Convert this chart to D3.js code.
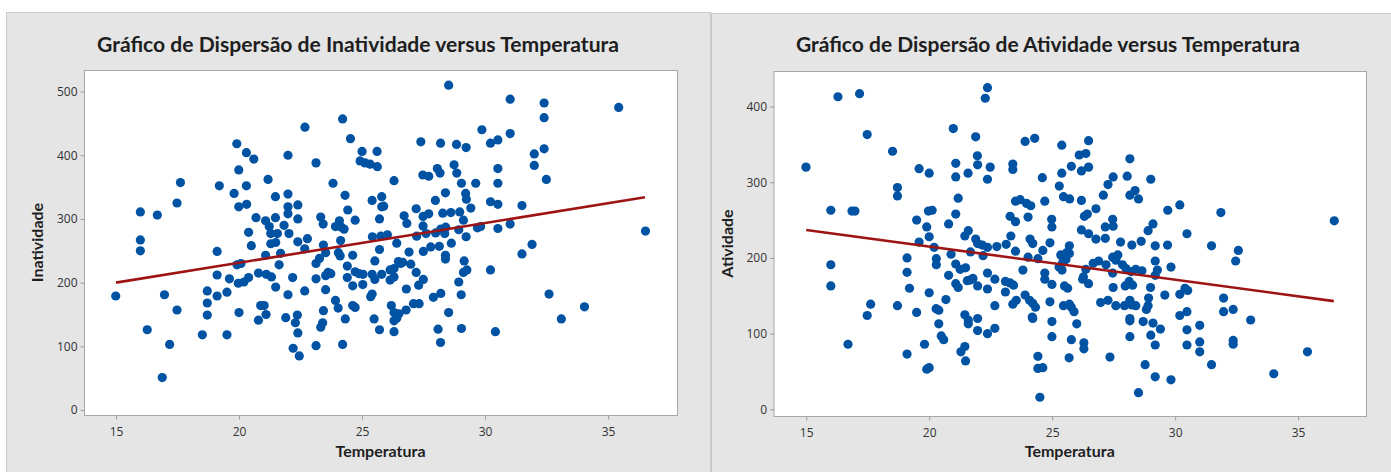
<!DOCTYPE html>
<html><head><meta charset="utf-8">
<script src="https://cdn.jsdelivr.net/npm/d3@7"></script>
<style>body{margin:0;background:#fff;} svg{display:block}</style>
</head><body><svg id="c" width="1391" height="472"></svg>
<script>
const xTicks = [15, 20, 25, 30, 35];
const inatTicks = [0, 100, 200, 300, 400, 500];
const ativTicks = [0, 100, 200, 300, 400];

const inatTemp = [19.91,20.30,20.60,19.99,17.62,19.20,20.30,21.18,19.80,21.48,17.48,15.99,16.68,19.99,20.31,20.69,21.48,21.08,21.23,21.29,21.56,20.39,15.99,15.99,20.50,21.29,21.49,19.11,21.08,21.69,21.63,19.92,20.08,19.11,19.61,19.97,20.20,20.39,20.79,21.11,21.32,21.49,14.99,16.97,18.71,19.11,19.51,18.71,17.48,18.71,20.00,20.88,21.02,21.10,20.79,16.27,17.18,18.51,19.51,16.88,
28.52,24.21,22.68,24.53,29.87,21.99,23.13,25.00,24.92,25.12,25.33,25.61,25.62,27.39,28.19,28.84,29.23,28.06,28.17,27.47,27.71,28.74,28.85,23.82,26.30,29.04,29.62,21.99,24.31,25.80,25.41,28.39,29.21,29.24,21.99,22.39,21.99,22.39,23.32,23.42,24.42,24.72,24.08,23.92,24.16,24.27,25.80,25.88,25.71,27.20,26.71,26.82,27.48,27.71,27.98,28.28,28.61,28.97,29.42,29.12,27.48,27.60,27.99,28.20,28.40,28.36,28.93,29.23,29.69,29.82,22.03,21.83,22.39,22.78,22.67,23.43,23.52,23.13,23.27,24.13,24.04,24.11,24.62,24.40,25.42,25.76,26.03,26.41,25.71,25.52,26.91,27.22,27.49,27.79,28.14,28.39,28.39,28.63,29.15,29.26,29.12,28.93,29.03,22.18,23.13,23.52,23.62,23.73,22.67,23.52,21.99,24.40,24.62,24.72,24.88,25.04,25.03,25.41,25.52,25.80,26.14,26.30,26.48,26.57,26.65,26.30,26.14,26.98,27.20,27.49,27.30,26.80,25.35,25.41,23.92,24.03,24.62,24.72,23.43,21.90,22.37,22.29,22.39,23.40,23.32,24.32,25.49,26.19,26.30,26.50,26.41,26.30,26.79,27.09,27.32,27.90,28.20,28.52,25.71,26.30,28.09,29.04,28.19,22.20,22.45,23.13,24.21,
31.02,32.40,35.43,32.40,31.02,30.22,30.52,32.00,32.40,32.00,30.52,32.49,30.52,30.22,30.52,31.50,30.52,31.02,36.52,31.91,31.50,30.22,32.60,34.04,33.10,30.42];
const inatVal = [418,404,394,377,357,352,352,362,340,335,325,311,306,319,323,302,302,297,288,277,277,279,267,250,258,261,263,249,243,246,228,228,230,212,206,199,201,208,215,213,209,193,179,181,187,179,185,168,157,149,153,164,164,150,141,126,103,118,118,51,
510,457,444,426,440,400,388,406,391,388,386,406,382,421,419,417,412,379,372,369,367,385,372,356,360,356,356,339,337,335,329,341,340,331,319,322,308,300,303,292,314,298,297,288,287,284,319,320,300,316,305,293,304,308,329,309,310,311,317,298,289,277,278,284,287,277,283,272,286,288,277,290,264,269,253,259,247,230,238,266,247,242,243,226,272,273,275,262,252,234,248,273,249,256,257,243,237,262,234,220,216,201,181,208,206,211,216,214,187,189,181,208,195,217,214,213,197,213,205,213,220,222,233,230,232,209,204,229,216,205,196,190,178,182,172,160,164,161,156,145,149,137,121,137,130,143,143,164,153,151,144,140,157,167,167,177,183,153,126,123,127,128,106,97,85,101,103,
488,482,475,459,434,419,424,402,410,384,379,362,356,327,323,321,285,292,281,260,245,220,182,162,143,123];

const ativTemp = [16.29,17.17,17.48,18.51,14.99,19.59,20.00,20.98,21.08,21.58,21.08,18.71,18.71,21.18,16.00,16.86,16.98,19.97,20.12,21.08,19.49,19.90,20.79,20.00,21.45,21.59,19.59,20.20,20.89,21.68,19.10,20.29,20.29,21.08,21.26,21.48,16.00,19.10,20.79,21.08,21.18,21.55,21.68,16.00,19.20,20.00,20.68,17.62,17.48,18.71,19.49,20.28,20.39,20.39,21.45,21.59,21.59,20.49,20.59,16.70,19.10,19.81,21.45,21.29,21.48,19.90,20.00,
22.37,22.28,21.89,23.90,24.29,25.39,26.48,26.10,26.37,21.96,21.97,22.48,23.40,23.40,22.37,24.60,25.39,25.78,26.19,26.48,28.16,28.05,29.01,27.48,27.27,25.29,25.46,25.71,26.19,27.08,28.16,28.37,28.51,29.70,23.51,23.70,23.96,24.13,24.70,26.78,24.02,23.29,23.51,24.98,24.99,26.31,26.43,26.19,26.48,27.16,27.46,27.48,27.16,26.78,29.10,28.90,28.62,28.24,27.78,29.19,29.69,21.89,21.97,22.16,22.37,22.75,23.13,23.32,23.51,24.10,24.21,24.91,24.62,24.02,24.42,25.70,25.59,25.35,25.70,25.56,25.43,25.28,25.40,22.19,23.81,24.70,24.70,26.37,26.27,26.24,26.48,26.67,26.89,27.19,27.46,27.67,27.59,27.46,27.86,28.00,28.21,28.40,28.65,28.13,28.27,27.97,29.19,29.28,29.19,29.83,21.78,21.97,22.37,22.67,22.37,23.10,23.29,23.43,23.10,24.99,25.50,25.63,27.48,29.00,29.58,28.92,23.90,24.08,24.21,24.32,23.54,23.40,24.91,22.67,26.97,27.27,27.59,25.46,25.70,25.78,25.89,27.94,28.16,28.24,28.40,28.83,28.90,24.19,24.21,21.97,21.97,22.37,22.67,24.99,26.00,28.16,28.16,28.70,29.10,29.40,29.01,29.19,24.99,25.78,26.29,26.29,28.16,24.42,24.42,24.62,25.69,27.35,28.78,29.19,29.83,28.51,24.50,
30.19,31.86,36.47,30.48,31.48,32.57,32.46,30.19,30.40,30.51,31.97,30.19,30.48,31.97,32.36,33.07,30.48,31.00,30.48,31.00,31.00,32.36,32.36,31.48,34.01,35.38];
const ativVal = [413,417,363,341,320,318,312,371,325,312,307,293,282,279,263,262,262,262,263,258,250,241,245,228,229,236,221,214,205,208,200,199,191,192,185,187,191,181,177,166,161,170,171,163,160,154,145,139,124,137,128,133,131,113,125,118,113,97,92,86,73,86,83,76,64,53,55,
425,411,360,354,358,349,355,336,338,335,323,320,324,317,304,306,312,321,315,320,331,308,304,307,297,295,281,278,276,283,283,289,278,263,275,277,272,269,275,265,254,255,248,251,241,255,258,237,232,241,251,242,226,225,245,236,222,217,221,216,217,225,219,217,214,215,218,229,209,225,219,220,210,201,199,216,207,204,206,198,194,188,184,203,184,180,172,185,175,172,166,193,196,191,201,204,197,180,191,186,182,185,183,169,164,163,196,184,177,188,173,163,180,172,159,169,167,164,155,165,163,160,161,161,151,147,151,144,140,135,144,139,142,137,141,144,137,137,139,135,129,137,144,138,137,132,137,122,120,120,104,100,107,116,113,120,117,116,114,106,98,85,96,92,88,80,96,70,54,55,68,69,59,43,39,22,16,
270,260,249,232,216,210,196,152,160,157,147,124,129,129,132,118,105,111,85,89,76,91,86,59,47,76];

const inatFitTemp = [15, 36.5];
const inatFitVal = [200, 334];
const ativFitTemp = [15, 36.45];
const ativFitVal = [237, 143];

const svg = d3.select('#c');
const FONT = 'Lato, "Open Sans", sans-serif';

function drawPanel(o) {
  const g = svg.append('g');
  g.append('rect').attr('x', o.bx0 + 0.5).attr('y', o.by0 + 0.5)
    .attr('width', o.bx1 - o.bx0).attr('height', 472 - o.by0 + 2)
    .attr('fill', '#e5e5e5').attr('stroke', '#c9c9c9');
  const x = d3.scaleLinear().domain(o.xDom).range([o.px0, o.px1]);
  const y = d3.scaleLinear().domain(o.yDom).range([o.py1, o.py0]);
  g.append('rect').attr('x', o.px0 + 0.5).attr('y', o.py0 + 0.5)
    .attr('width', o.px1 - o.px0).attr('height', o.py1 - o.py0)
    .attr('fill', '#fff').attr('stroke', '#a8a8a8');

  const xa = g.append('g').attr('transform', `translate(0,${o.py1 + 0.5})`)
    .call(d3.axisBottom(x).tickValues(xTicks).tickSize(4).tickPadding(8));
  const ya = g.append('g').attr('transform', `translate(${o.px0 + 0.5},0)`)
    .call(d3.axisLeft(y).tickValues(o.yTicks).tickSize(4).tickPadding(3));
  [xa, ya].forEach(a => {
    a.select('.domain').remove();
    a.selectAll('line').attr('stroke', '#9a9a9a');
    a.selectAll('text').attr('fill', '#333').style('font-family', '"Open Sans", sans-serif').style('font-size', '12px');
  });

  const pts = o.xs.map((v, i) => [v, o.ys[i]]);
  g.append('g').selectAll('circle').data(pts).join('circle')
    .attr('cx', d => x(d[0])).attr('cy', d => y(d[1])).attr('r', 4.6)
    .attr('fill', '#0052a3');

  const fit = o.fx.map((v, i) => [v, o.fy[i]]);
  g.append('path').datum(fit)
    .attr('d', d3.line().x(d => x(d[0])).y(d => y(d[1])))
    .attr('stroke', '#9e1414').attr('stroke-width', 2.6).attr('fill', 'none');

  const t = g.append('text').attr('x', o.tcx).attr('y', 52).attr('text-anchor', 'middle')
    .style('font-family', FONT).style('font-weight', 'bold').style('font-size', '20px')
    .attr('fill', '#1e1e1e').text(o.title);
  t.attr('textLength', o.tw).attr('lengthAdjust', 'spacingAndGlyphs');

  g.append('text').attr('x', (o.px0 + o.px1) / 2).attr('y', 457).attr('text-anchor', 'middle')
    .style('font-family', FONT).style('font-weight', 'bold').style('font-size', '16px')
    .attr('fill', '#1e1e1e').text('Temperatura');
  g.append('text').attr('transform', `translate(${o.ylx},${(o.py0 + o.py1) / 2}) rotate(-90)`)
    .attr('text-anchor', 'middle')
    .style('font-family', FONT).style('font-weight', 'bold').style('font-size', '16px')
    .attr('fill', '#1e1e1e').text(o.yLabel);
}

drawPanel({
  bx0: 6, bx1: 710, by0: 12,
  px0: 84, px1: 677, py0: 70, py1: 415,
  xDom: [13.70, 37.8], yDom: [-7.8, 533.8], yTicks: inatTicks,
  xs: inatTemp, ys: inatVal, fx: inatFitTemp, fy: inatFitVal,
  title: 'Gráfico de Dispersão de Inatividade versus Temperatura', tcx: 358, tw: 522,
  yLabel: 'Inatividade', ylx: 43
});
drawPanel({
  bx0: 711, bx1: 1392, by0: 13,
  px0: 773.5, px1: 1366, py0: 71, py1: 416,
  xDom: [13.67, 37.76], yDom: [-8.8, 447], yTicks: ativTicks,
  xs: ativTemp, ys: ativVal, fx: ativFitTemp, fy: ativFitVal,
  title: 'Gráfico de Dispersão de Atividade versus Temperatura', tcx: 1048, tw: 504,
  yLabel: 'Atividade', ylx: 733
});
</script>
</body></html>
